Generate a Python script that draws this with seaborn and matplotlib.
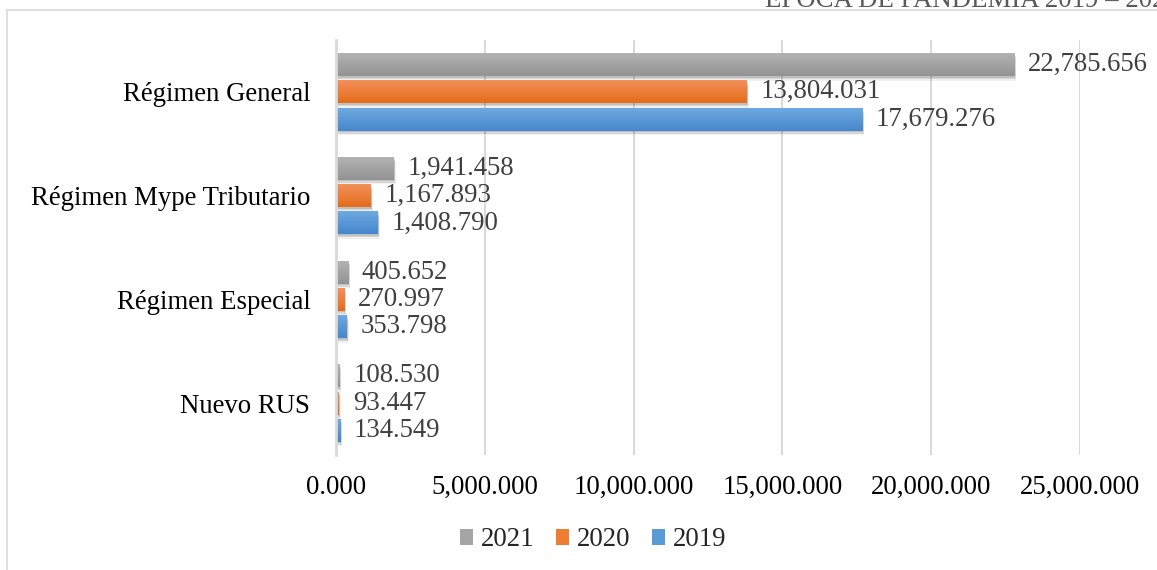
import numpy as np
import pandas as pd
import matplotlib
matplotlib.use("Agg")
import matplotlib.pyplot as plt
import matplotlib.transforms as mtransforms
import seaborn as sns
from matplotlib.colors import LinearSegmentedColormap
from matplotlib.patches import Rectangle, Patch
from matplotlib.ticker import FuncFormatter

# Recaudación por régimen tributario (miles de soles)
regimenes = ["Régimen General", "Régimen Mype Tributario", "Régimen Especial", "Nuevo RUS"]
anios = ["2021", "2020", "2019"]
valores_2021 = [22785.656, 1941.458, 405.652, 108.530]
valores_2020 = [13804.031, 1167.893, 270.997, 93.447]
valores_2019 = [17679.276, 1408.790, 353.798, 134.549]
ticks_x = [0, 5000, 10000, 15000, 20000, 25000]
titulo = "ÉPOCA DE PANDEMIA 2019 – 2021"

colores = {"2021": "#a5a5a5", "2020": "#ed7d31", "2019": "#5b9bd5"}
degradados = {
    "2021": ("#b3b3b3", "#939393"),
    "2020": ("#f4905a", "#e46c1a"),
    "2019": ("#6eaae1", "#4686cb"),
}

filas = []
for anio, vals in zip(anios, [valores_2021, valores_2020, valores_2019]):
    for reg, v in zip(regimenes, vals):
        filas.append({"Régimen": reg, "Año": anio, "Valor": v})
df = pd.DataFrame(filas)

sns.set_theme(style="white")
plt.rcParams["font.family"] = ["Liberation Serif", "DejaVu Serif"]
FS = 19.3

W, H = 1157, 570
fig = plt.figure(figsize=(W / 100, H / 100), dpi=100)
fig.patch.set_facecolor("white")
ax = fig.add_axes([336 / W, 1 - 455 / H, (1080 - 336) / W, (455 - 40) / H])

sns.barplot(
    data=df, y="Régimen", x="Valor", hue="Año",
    order=regimenes, hue_order=anios, palette=colores,
    orient="h", width=0.79, gap=0.16, saturation=1,
    errorbar=None, legend=False, linewidth=0, ax=ax,
)

# soft drop shadow and vertical gradient on each bar
for anio, cont in zip(anios, ax.containers):
    top, bottom = degradados[anio]
    cmap = LinearSegmentedColormap.from_list("g" + anio, [top, bottom])
    grad = np.linspace(0, 1, 64).reshape(-1, 1)
    for patch in cont.patches:
        x0, y0 = patch.get_x(), patch.get_y()
        w, h = patch.get_width(), patch.get_height()
        patch.set_zorder(2)
        patch.set_linewidth(0)
        patch.set_edgecolor("none")
        for dx, dy, a in [(1.0, 1.5, 0.10), (1.5, 3.0, 0.10), (2.0, 4.5, 0.06)]:
            tr = mtransforms.offset_copy(ax.transData, fig=fig, x=dx, y=-dy, units="dots")
            ax.add_patch(Rectangle((x0, y0), w, h, transform=tr, facecolor="black",
                                   edgecolor="none", alpha=a, zorder=1.5))
        im = ax.imshow(grad, extent=(x0, x0 + w, y0 + h, y0), origin="upper",
                       aspect="auto", cmap=cmap, interpolation="bilinear", zorder=2.1)
        im.set_clip_path(patch)
    ax.bar_label(cont, labels=[f"{v:,.3f}" for v in cont.datavalues],
                 padding=10, fontsize=FS, color="#404040")

ax.set_xlim(0, 25000)
ax.set_ylim(3.5, -0.5)
ax.set_xticks(ticks_x)
ax.xaxis.set_major_formatter(FuncFormatter(lambda v, _: f"{v:,.3f}"))
ax.set_xlabel("")
ax.set_ylabel("")
ax.set_axisbelow(True)
ax.grid(axis="x", color="#d9d9d9", lw=1.4)
ax.grid(axis="y", visible=False)
for s in ["top", "right", "bottom"]:
    ax.spines[s].set_visible(False)
ax.spines["left"].set_color("#d9d9d9")
ax.spines["left"].set_linewidth(2.0)
ax.tick_params(axis="x", length=0, pad=14.5, labelsize=FS, labelcolor="black")
ax.tick_params(axis="y", length=0, pad=18.5, labelsize=FS, labelcolor="black")

handles = [Patch(facecolor=colores[a], edgecolor="none") for a in anios]
fig.legend(handles, anios, loc="center", bbox_to_anchor=(593 / W, 1 - 540 / H),
           ncol=3, frameon=False, fontsize=FS, handlelength=0.5, handleheight=0.5,
           handletextpad=0.28, columnspacing=0.8, borderpad=0)

# chart frame and title
fig.add_artist(Rectangle((7 / W, -0.1), 1.2, 1 - 10 / H + 0.1, transform=fig.transFigure,
                         fill=False, edgecolor="#d9d9d9", lw=1.2))
fig.text(765 / W, 1 - 7 / H, titulo, ha="left", va="baseline", fontsize=FS, color="#595959")

fig.savefig("out.png", dpi=100, facecolor="white")
